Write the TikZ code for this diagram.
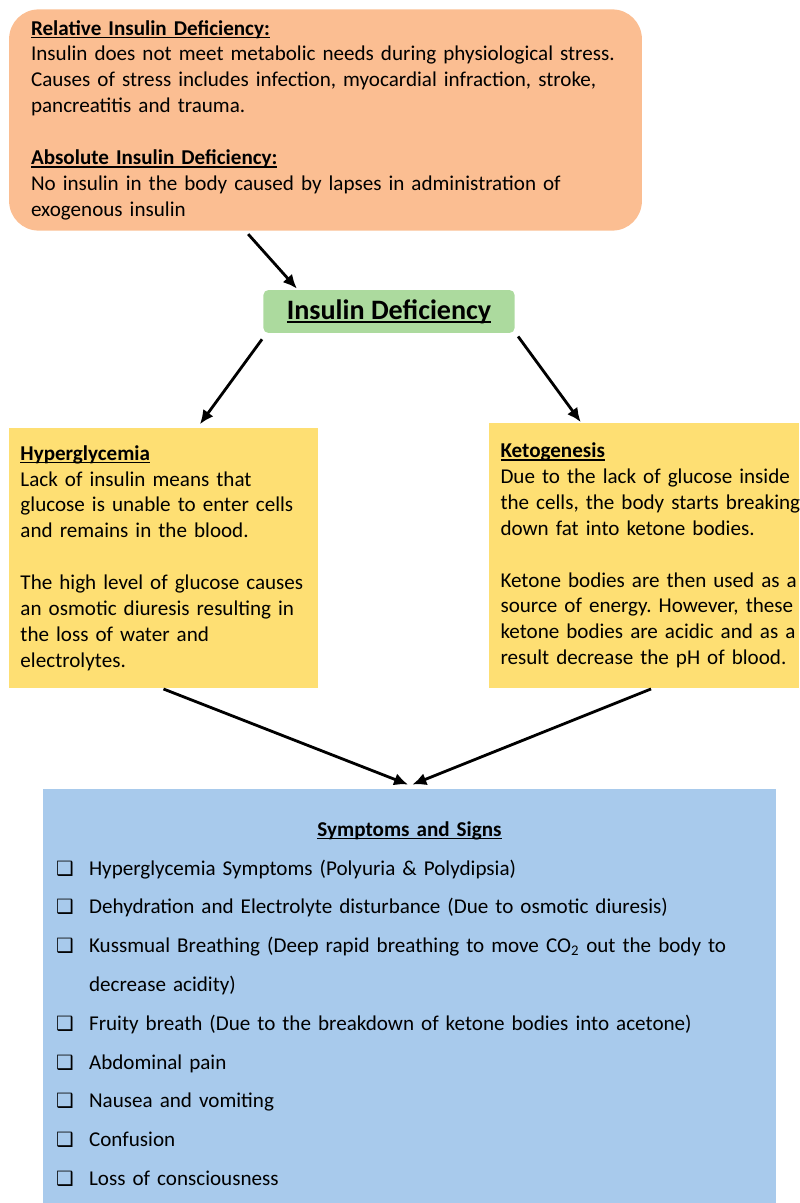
\documentclass[tikz,border=0pt]{standalone}
\usepackage{fontspec}
\setmainfont{Carlito}
\newfontfamily\symfont{DejaVu Sans}
\usetikzlibrary{arrows.meta}
\definecolor{peach}{RGB}{251,190,146}
\definecolor{mint}{RGB}{172,218,158}
\definecolor{butter}{RGB}{254,223,115}
\definecolor{sky}{RGB}{168,202,236}
\frenchspacing
\newsavebox\hdrbox
\newcommand{\hdr}[1]{\leavevmode\sbox\hdrbox{\textbf{#1}}\rlap{\rule[-0.15em]{\wd\hdrbox}{0.07em}}\usebox\hdrbox}
\newcommand{\tick}{\makebox[23.4pt][l]{\symfont\fontsize{14}{14}\selectfont ❑}}

\begin{document}
\begin{tikzpicture}[x=0.025cm, y=-0.025cm,
  box/.style={inner xsep=8.5pt, inner ysep=0pt, align=left, font=\fontsize{15}{18.4}\selectfont},
  >={Latex[length=10pt,width=9pt]}, line width=2pt]
\useasboundingbox (0,0) rectangle (800,1203);
\node[box, fill=peach, rounded corners=21pt, inner xsep=15.6pt, text width=418.8pt, minimum height=157.3pt] at (325.5, 120) (causes) {\hdr{Relative Insulin Deficiency:}\\
Insulin does not meet metabolic needs during physiological stress.\\
Causes of stress includes infection, myocardial infraction, stroke,\\
pancreatitis and trauma.\\[18.4pt]
\hdr{Absolute Insulin Deficiency:}\\
No insulin in the body caused by lapses in administration of\\
exogenous insulin};
\node[fill=mint, rounded corners=3.5pt, minimum width=178.6pt, minimum height=30.5pt, font=\fontsize{20}{24}\selectfont] at (389, 311.5) (deficiency) {\hdr{Insulin Deficiency}};
\node[box, fill=butter, text width=203.4pt, minimum height=184.3pt] at (163.5, 558) (hyper) {\hdr{Hyperglycemia}\\
Lack of insulin means that\\
\mbox{glucose is unable to enter cells}\\
and remains in the blood.\\[18.4pt]
\mbox{The high level of glucose causes}\\
\mbox{an osmotic diuresis resulting in}\\
the loss of water and\\
electrolytes.};
\node[box, fill=butter, text width=204.1pt, minimum height=187.8pt] at (644, 555.5) (keto) {\hdr{Ketogenesis}\\
\mbox{Due to the lack of glucose inside}\\
\mbox{the cells, the body starts breaking}\\
down fat into ketone bodies.\\[18.4pt]
\mbox{Ketone bodies are then used as a}\\
\mbox{source of energy. However, these}\\
\mbox{ketone bodies are acidic and as a}\\
\mbox{result decrease the pH of blood.}};
\node[box, fill=sky, inner xsep=9.2pt, text width=502.5pt, minimum height=306.1pt, font=\fontsize{15}{27.6}\selectfont] at (409.5, 1004) (signs) {\makebox[502.5pt]{\hdr{Symptoms and Signs}}\\
\tick Hyperglycemia Symptoms (Polyuria \& Polydipsia)\\
\tick Dehydration and Electrolyte disturbance (Due to osmotic diuresis)\\
\tick \mbox{Kussmual Breathing (Deep rapid breathing to move CO\textsubscript{2} out the body to}\\
\hspace*{23.4pt}decrease acidity)\\
\tick Fruity breath (Due to the breakdown of ketone bodies into acetone)\\
\tick Abdominal pain\\
\tick Nausea and vomiting\\
\tick Confusion\\
\tick Loss of consciousness};
\draw[->] ([xshift=-55pt,yshift=-1.5pt]causes.south) -- ([xshift=24.8pt]deficiency.north west);
\draw[->] ([yshift=-3.5pt]deficiency.south west) -- ([xshift=25.9pt,yshift=2pt]hyper.north);
\draw[->] ([xshift=1.5pt,yshift=-1.5pt]deficiency.south east) -- ([xshift=-45pt]keto.north);
\draw[->] (hyper.south) -- ([xshift=-1pt,yshift=2pt]signs.north);
\draw[->] ([xshift=5pt]keto.south) -- ([xshift=2pt,yshift=2pt]signs.north);
\end{tikzpicture}
\end{document}
